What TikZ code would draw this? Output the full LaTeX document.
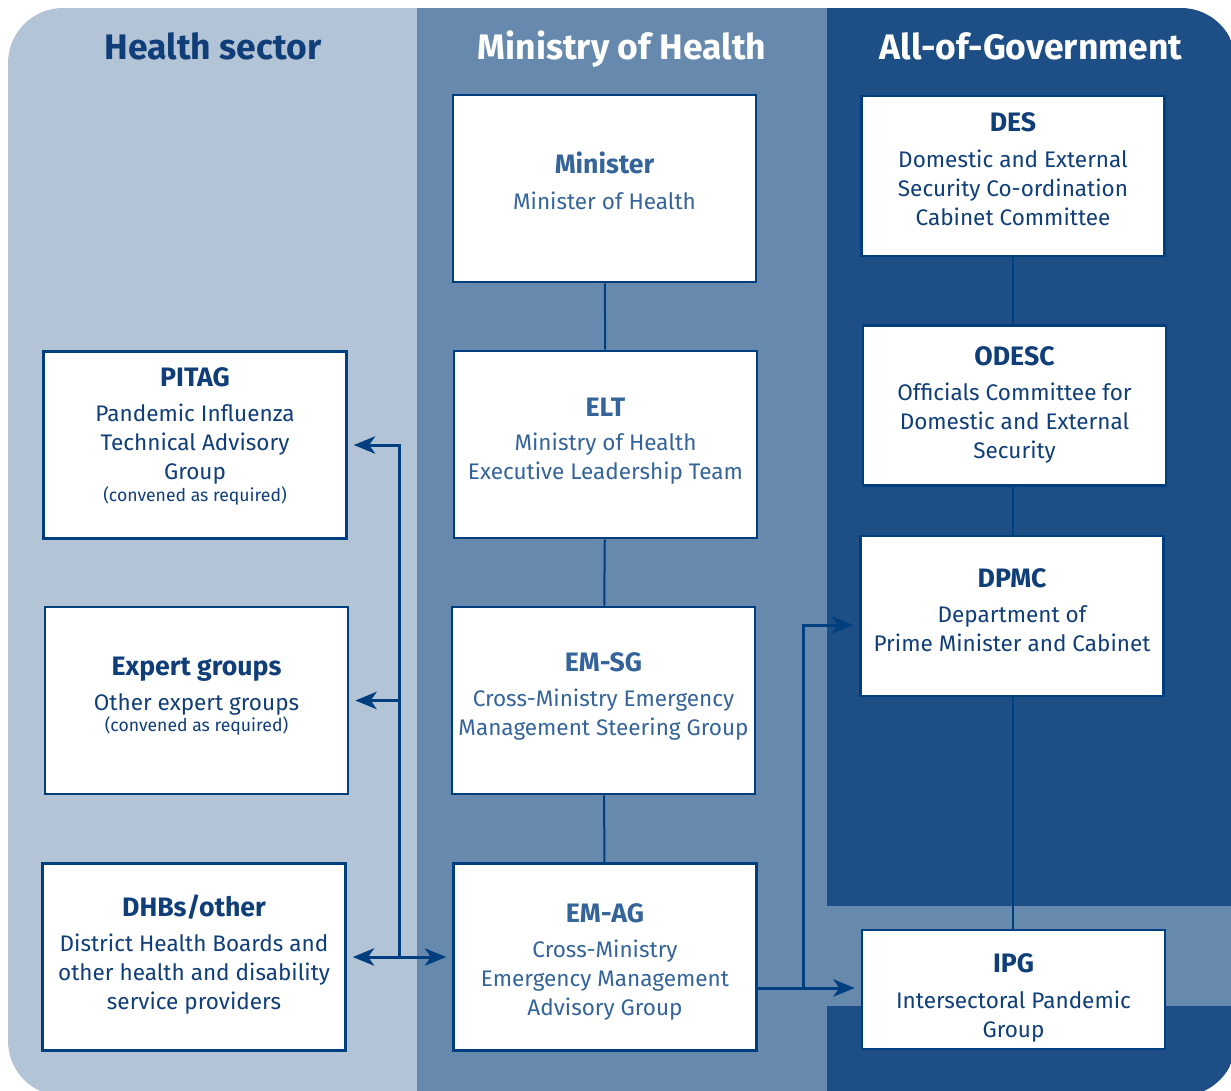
\documentclass[tikz,border=0pt]{standalone}
\usepackage{fontspec}
\setmainfont{Fira Sans}
\usetikzlibrary{arrows.meta}
\definecolor{bglight}{HTML}{B3C4D6}
\definecolor{bgmid}{HTML}{6789AE}
\definecolor{bgdark}{HTML}{1D4F86}
\definecolor{lineb}{HTML}{003F7F}
\definecolor{tmid}{HTML}{34649A}
\definecolor{tdark}{HTML}{0F3E79}
\tikzset{
  box/.style={draw=lineb, line width=2pt, fill=white, minimum width=227.25pt, inner sep=0pt},
  boxA/.style={box, minimum height=140.25pt},
  boxB/.style={box, minimum height=120pt},
  boxC/.style={box, minimum height=89.25pt},
  ttl/.style={anchor=base, inner sep=0pt, font=\fontsize{20}{24}\selectfont\bfseries},
  bdy/.style={anchor=north, yshift=15.225pt, align=center, inner sep=0pt, font=\fontsize{16.9}{21.75}\selectfont},
  sml/.style={anchor=base, inner sep=0pt, font=\fontsize{13.2}{16}\selectfont},
  hdr/.style={anchor=base, inner sep=0pt, font=\fontsize{26.6}{32}\selectfont\bfseries},
  conn/.style={draw=lineb, line width=1.5pt},
  arr/.style={draw=lineb, line width=2.25pt, -{Stealth[length=16pt,width=13pt,inset=4.5pt]}, shorten >=4.5pt},
  darr/.style={draw=lineb, line width=2.25pt, {Stealth[length=16pt,width=13pt,inset=4.5pt]}-{Stealth[length=16pt,width=13pt,inset=4.5pt]}, shorten >=4.5pt, shorten <=4.5pt},
}
\begin{document}
\begin{tikzpicture}[x={(0.75pt,0)}, y={(0,-0.75pt)}]
\useasboundingbox (0,0) rectangle (1231,1091);
% background bands
\begin{scope}
  \clip (0,0) rectangle (1231,1091);
  \clip[rounded corners=41.25pt] (8,8) rectangle (1236,1096);
  \fill[bglight] (8,8) rectangle (417,1096);
  \fill[bgmid] (417,8) rectangle (827,1096);
  \fill[bgdark] (827,8) rectangle (1236,906);
  \fill[bgmid] (827,906) rectangle (1236,1006);
  \fill[bgdark] (827,1006) rectangle (1236,1096);
\end{scope}
% headings
\node[hdr, text=tdark] (h1) at (213,60) {Health sector};
\node[hdr, text=white] (h2) at (622,60) {Ministry of Health};
\node[hdr, text=white] (h3) at (1031,60) {All-of-Government};
% boxes
\node[boxA] (min) at (604.5,188.5) {};
\node[boxA] (elt) at (605.5,444.5) {};
\node[boxA] (emsg) at (603.5,700.5) {};
\node[boxA] (emag) at (605,957) {};
\node[boxA] (pitag) at (195,445) {};
\node[boxA] (exp) at (196.5,700.5) {};
\node[boxA] (dhb) at (194,957) {};
\node[boxB] (des) at (1013,176) {};
\node[boxB] (odesc) at (1014.5,405.5) {};
\node[boxB] (dpmc) at (1012,616) {};
\node[boxC] (ipg) at (1013.5,989.5) {};
% connectors (vertical chains)
\draw[conn] (min) -- (elt);
\draw[conn] (elt) -- (emsg);
\draw[conn] (emsg) -- (emag);
\draw[conn] (des.south) -- (odesc.north -| des.south);
\draw[conn] (odesc.south -| des.south) -- (dpmc.north -| des.south);
\draw[conn] (dpmc.south -| des.south) -- (ipg.north -| des.south);
% left bus
\coordinate (lj) at (399,957);
\draw[darr] (dhb.east) -- (emag.west);
\draw[arr] (lj) |- (pitag.east);
\draw[arr] (lj |- exp.east) -- (exp.east);
% right bus
\coordinate (rj) at (803,988);
\coordinate (rt) at (803,625);
\draw[arr] (emag.east |- rj) -- (ipg.west |- rj);
\draw[arr] (rj) -- (rt) -- (dpmc.west |- rt);
% texts: ministry column
\node[ttl, text=tmid] (minT) at (604.5,174) {Minister};
\node[bdy, text=tmid] (minB) at (604.5,209) {\strut Minister of Health};
\node[ttl, text=tmid] (eltT) at (605.5,416) {ELT};
\node[bdy, text=tmid] (eltB) at (605.5,450) {\strut Ministry of Health\\Executive Leadership Team};
\node[ttl, text=tmid] (emsgT) at (603.5,671) {EM-SG};
\node[bdy, text=tmid] (emsgB) at (603.5,706) {\strut Cross-Ministry Emergency\\Management Steering Group};
\node[ttl, text=tmid] (emagT) at (605,922) {EM-AG};
\node[bdy, text=tmid] (emagB) at (605,957) {\strut Cross-Ministry\\Emergency Management\\Advisory Group};
% texts: health sector
\node[ttl, text=tdark] (pitagT) at (195,386) {PITAG};
\node[bdy, text=tdark] (pitagB) at (195,421) {\strut Pandemic Influenza\\Technical Advisory\\Group};
\node[sml, text=tdark] (pitagS) at (195,501) {(convened as required)};
\node[ttl, text=tdark] (expT) at (196.5,675) {Expert groups};
\node[bdy, text=tdark] (expB) at (196.5,710) {\strut Other expert groups};
\node[sml, text=tdark] (expS) at (196.5,731) {(convened as required)};
\node[ttl, text=tdark] (dhbT) at (194,916) {DHBs/other};
\node[bdy, text=tdark] (dhbB) at (194,951) {\strut District Health Boards and\\other health and disability\\service providers};
% texts: all-of-government
\node[ttl, text=tdark] (desT) at (1013,132) {DES};
\node[bdy, text=tdark] (desB) at (1013,167) {\strut Domestic and External\\Security Co-ordination\\Cabinet Committee};
\node[ttl, text=tdark] (odescT) at (1014.5,365) {ODESC};
\node[bdy, text=tdark] (odescB) at (1014.5,400) {\strut Officials Committee for\\Domestic and External\\Security};
\node[ttl, text=tdark] (dpmcT) at (1012,587) {DPMC};
\node[bdy, text=tdark] (dpmcB) at (1012,622) {\strut Department of\\Prime Minister and Cabinet};
\node[ttl, text=tdark] (ipgT) at (1013.5,972) {IPG};
\node[bdy, text=tdark] (ipgB) at (1013.5,1008) {\strut Intersectoral Pandemic\\Group};
\end{tikzpicture}
\end{document}
